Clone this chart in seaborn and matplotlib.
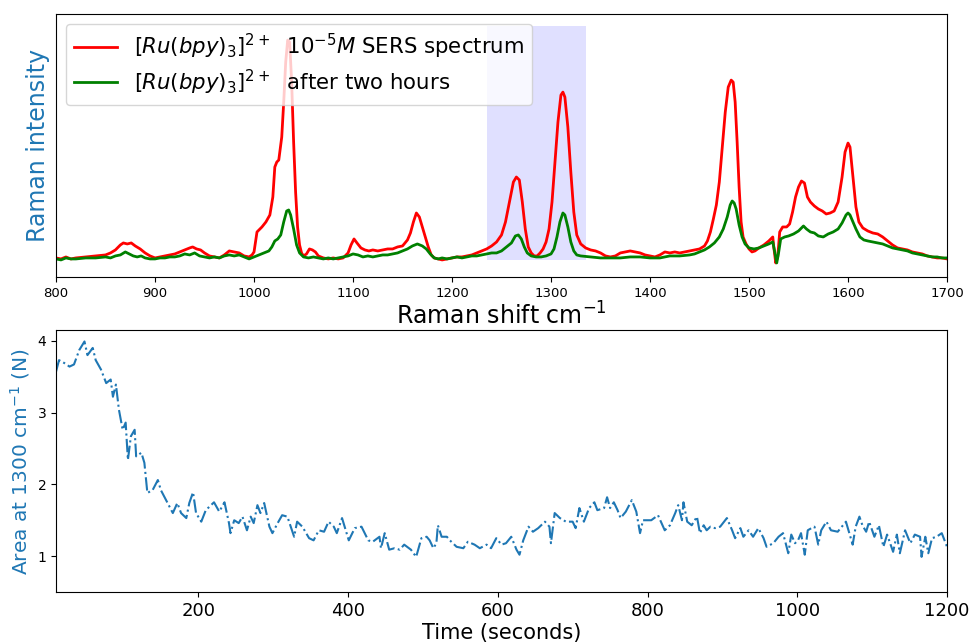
import numpy as np
import pandas as pd
import matplotlib
matplotlib.use("Agg")
import matplotlib.pyplot as plt
import seaborn as sns

# ---------------- data: top panel (Raman spectra) ----------------
red_shift = [800, 805, 810, 815, 820, 830, 840, 850, 855, 860, 865, 868, 872, 876, 880, 885, 890, 895,
             900, 905, 910, 915, 920, 925, 930, 935, 938, 942, 946, 950, 955, 960, 965, 970, 975, 980,
             985, 990, 995, 998, 1000, 1003, 1008, 1012, 1016, 1019, 1021, 1023, 1025, 1028, 1030, 1032,
             1034, 1036, 1038, 1040, 1042, 1044, 1046, 1048, 1050, 1053, 1056, 1059, 1062, 1065, 1070,
             1075, 1080, 1085, 1090, 1095, 1098, 1101, 1104, 1108, 1112, 1116, 1120, 1125, 1130, 1135,
             1140, 1145, 1150, 1155, 1158, 1161, 1164, 1167, 1170, 1173, 1176, 1179, 1182, 1186, 1190,
             1195, 1200, 1205, 1210, 1215, 1220, 1225, 1230, 1235, 1240, 1245, 1250, 1254, 1258, 1262,
             1265, 1268, 1271, 1274, 1277, 1280, 1283, 1286, 1289, 1292, 1295, 1298, 1301, 1304, 1307,
             1310, 1312, 1314, 1317, 1320, 1323, 1326, 1330, 1335, 1340, 1345, 1350, 1355, 1360, 1365,
             1370, 1375, 1380, 1385, 1390, 1395, 1400, 1405, 1410, 1415, 1420, 1425, 1430, 1435, 1440,
             1445, 1450, 1455, 1458, 1461, 1464, 1467, 1470, 1473, 1476, 1479, 1482, 1484, 1486, 1488,
             1490, 1492, 1494, 1497, 1500, 1503, 1506, 1510, 1515, 1520, 1524, 1525, 1527, 1529, 1531,
             1534, 1538, 1541, 1544, 1547, 1550, 1553, 1556, 1559, 1562, 1566, 1570, 1574, 1578, 1582,
             1586, 1590, 1594, 1597, 1600, 1602, 1605, 1608, 1611, 1615, 1620, 1625, 1630, 1635, 1640,
             1645, 1650, 1655, 1660, 1665, 1670, 1675, 1680, 1685, 1690, 1695, 1700]
red_intensity = [19, 18, 20, 18, 19, 20, 21, 22, 24, 27, 32, 34, 33, 34, 31, 28, 24, 21,
                 19, 20, 21, 22, 23, 25, 27, 29, 30, 28, 27, 24, 21, 20, 19, 22, 26, 25,
                 24, 21, 20, 22, 25, 45, 50, 55, 62, 80, 110, 115, 117, 140, 175, 215,
                 237, 235, 195, 135, 85, 50, 32, 24, 21, 23, 28, 27, 25, 21, 19,
                 18, 19, 18, 19, 24, 32, 38, 34, 29, 27, 26, 27, 26, 27, 28,
                 28, 30, 31, 37, 44, 55, 64, 60, 50, 40, 30, 22, 19, 18, 17,
                 18, 19, 20, 20, 21, 22, 24, 26, 28, 31, 35, 42, 55, 75, 95,
                 100, 97, 75, 48, 30, 24, 21, 21, 24, 28, 35, 48, 75, 115, 155,
                 182, 185, 180, 150, 105, 65, 42, 33, 29, 27, 26, 24, 21, 20, 21,
                 24, 25, 26, 25, 24, 22, 21, 20, 22, 25, 24, 25, 24, 25, 26,
                 27, 28, 31, 36, 45, 58, 72, 95, 130, 165, 190, 197, 195, 175, 135,
                 90, 55, 40, 33, 28, 25, 26, 29, 32, 36, 40, 30, 14, 20, 45,
                 50, 50, 53, 65, 80, 90, 96, 94, 80, 75, 71, 68, 66, 63, 64,
                 66, 75, 100, 125, 134, 130, 100, 70, 55, 49, 46, 44, 43, 40, 36,
                 32, 29, 28, 27, 25, 24, 23, 21, 20, 19, 19, 18]

green_shift = [800, 805, 810, 815, 820, 830, 840, 850, 855, 860, 865, 870, 874, 878, 882, 886, 890, 895,
               900, 905, 910, 915, 920, 925, 930, 935, 940, 945, 950, 955, 960, 965, 970, 975, 980, 985,
               990, 995, 1000, 1005, 1010, 1015, 1018, 1021, 1024, 1027, 1030, 1033, 1035, 1037, 1040,
               1043, 1046, 1050, 1055, 1060, 1065, 1070, 1075, 1080, 1085, 1090, 1095, 1100, 1105, 1110,
               1115, 1120, 1125, 1130, 1135, 1140, 1145, 1150, 1155, 1160, 1165, 1170, 1174, 1178, 1182,
               1186, 1190, 1195, 1200, 1205, 1210, 1215, 1220, 1225, 1230, 1235, 1240, 1245, 1250, 1255,
               1260, 1264, 1267, 1270, 1273, 1276, 1280, 1285, 1290, 1295, 1300, 1303, 1306, 1309, 1312,
               1314, 1317, 1320, 1323, 1326, 1330, 1340, 1350, 1360, 1370, 1380, 1390, 1400, 1410, 1420,
               1430, 1440, 1445, 1450, 1455, 1460, 1465, 1470, 1474, 1478, 1481, 1483, 1485, 1487, 1490,
               1493, 1496, 1500, 1505, 1510, 1515, 1520, 1524, 1526, 1528, 1530, 1532, 1536, 1540, 1545,
               1550, 1555, 1558, 1562, 1566, 1570, 1575, 1580, 1585, 1590, 1594, 1598, 1600, 1602, 1605,
               1608, 1612, 1616, 1620, 1625, 1630, 1635, 1640, 1645, 1650, 1655, 1660, 1665, 1670, 1675,
               1680, 1685, 1690, 1695, 1700]
green_intensity = [18, 17, 19, 18, 18, 19, 19, 20, 19, 21, 22, 25, 23, 21, 20, 21, 19, 18,
                   18, 19, 19, 20, 20, 21, 23, 22, 24, 21, 20, 19, 20, 19, 21, 22, 21, 22,
                   20, 18, 20, 22, 24, 26, 30, 36, 38, 42, 55, 66, 67, 62, 48,
                   32, 24, 20, 19, 20, 19, 18, 19, 18, 19, 20, 21, 23, 22, 20,
                   21, 20, 21, 22, 22, 23, 24, 26, 28, 31, 33, 31, 28, 23, 19,
                   18, 19, 18, 19, 20, 19, 20, 21, 21, 22, 23, 24, 24, 26, 30,
                   34, 41, 42, 38, 30, 24, 21, 20, 20, 21, 23, 28, 40, 55, 64,
                   62, 50, 35, 26, 22, 21, 20, 19, 19, 19, 20, 20, 19, 19, 21,
                   21, 22, 23, 25, 27, 30, 34, 40, 48, 60, 72, 76, 74, 68, 52,
                   40, 33, 29, 28, 29, 31, 33, 35, 25, 14, 25, 38, 40, 41, 43,
                   46, 51, 48, 45, 44, 41, 40, 43, 45, 48, 54, 62, 64, 62, 55,
                   48, 40, 37, 36, 35, 34, 33, 31, 29, 28, 27, 26, 24, 23, 22,
                   21, 20, 20, 19, 19]

span_shift = [1235, 1335]
span_intensity = [17, 251]

label_red = r"$[Ru(bpy)_3]^{2+}$  $10^{-5}M$ SERS spectrum"
label_green = r"$[Ru(bpy)_3]^{2+}$  after two hours"
spectrum_ticks = [800, 900, 1000, 1100, 1200, 1300, 1400, 1500, 1600, 1700]

# ---------------- data: bottom panel (area vs time) ----------------
time_s = [10, 14, 21, 28, 34, 41, 48, 52, 59, 63, 70, 77, 83, 86, 90, 94, 99, 103, 106, 110,
          115, 117, 124, 128, 132, 139, 146, 150, 157, 166, 172, 177, 184, 188, 193, 197, 204, 210,
          217, 221, 228, 235, 241, 243, 248, 254, 259, 265, 270, 274, 279, 283, 288, 295, 299, 306,
          312, 319, 328, 332, 339, 348, 354, 361, 368, 374, 381, 385, 392, 397, 401, 409, 418, 427,
          433, 442, 444, 449, 455, 462, 469, 475, 484, 491, 498, 505, 509, 514, 518, 520, 525, 532,
          536, 545, 554, 560, 569, 576, 585, 591, 598, 605, 611, 618, 625, 629, 634, 641, 647, 654,
          663, 669, 671, 676, 683, 691, 700, 704, 709, 715, 722, 729, 733, 742, 746, 750, 755, 760,
          764, 771, 779, 785, 790, 794, 801, 805, 814, 823, 830, 837, 841, 846, 848, 853, 859, 866,
          870, 875, 879, 884, 890, 897, 906, 913, 917, 924, 928, 935, 941, 948, 955, 959, 968, 975,
          981, 988, 992, 997, 1001, 1005, 1010, 1014, 1019, 1023, 1028, 1032, 1039, 1045, 1054, 1065,
          1074, 1078, 1083, 1087, 1092, 1096, 1103, 1109, 1115, 1120, 1128, 1133, 1137, 1144, 1151,
          1157, 1164, 1166, 1171, 1175, 1180, 1186, 1193, 1200]
area_1300 = [3.57, 3.73, 3.69, 3.64, 3.67, 3.87, 3.99, 3.80, 3.90, 3.73, 3.60, 3.41, 3.46, 3.22,
             3.39, 3.04, 2.76, 2.86, 2.34, 2.67, 2.76, 2.39, 2.44, 2.30, 1.88, 1.92, 2.06, 1.92, 1.78,
             1.60, 1.74, 1.60, 1.53, 1.74, 1.89, 1.60, 1.48, 1.64, 1.71, 1.75, 1.62, 1.75, 1.46, 1.32,
             1.50, 1.46, 1.55, 1.36, 1.55, 1.46, 1.71, 1.60, 1.74, 1.41, 1.32, 1.46, 1.57, 1.55, 1.27,
             1.48, 1.41, 1.25, 1.22, 1.36, 1.34, 1.48, 1.41, 1.32, 1.53, 1.36, 1.22, 1.39, 1.41, 1.22,
             1.20, 1.27, 1.11, 1.32, 1.09, 1.11, 1.09, 1.16, 1.09, 0.99, 1.25, 1.27, 1.22, 1.11, 1.18,
             1.43, 1.27, 1.27, 1.22, 1.13, 1.11, 1.20, 1.16, 1.11, 1.16, 1.11, 1.25, 1.16, 1.18, 1.27,
             1.09, 1.02, 1.22, 1.41, 1.34, 1.39, 1.48, 1.41, 1.18, 1.60, 1.53, 1.48, 1.48, 1.39, 1.67,
             1.48, 1.67, 1.75, 1.64, 1.67, 1.82, 1.67, 1.75, 1.64, 1.53, 1.62, 1.78, 1.62, 1.32, 1.50,
             1.50, 1.50, 1.57, 1.36, 1.43, 1.60, 1.71, 1.50, 1.75, 1.48, 1.43, 1.55, 1.32, 1.43, 1.36,
             1.41, 1.39, 1.41, 1.53, 1.36, 1.25, 1.39, 1.27, 1.36, 1.27, 1.39, 1.25, 1.13, 1.18, 1.27,
             1.32, 1.04, 1.30, 1.18, 1.22, 1.32, 1.02, 1.36, 1.39, 1.41, 1.16, 1.36, 1.48, 1.36, 1.34,
             1.48, 1.16, 1.41, 1.55, 1.43, 1.34, 1.48, 1.27, 1.43, 1.13, 1.30, 1.06, 1.30, 1.04, 1.36,
             1.18, 1.30, 1.27, 0.99, 1.27, 1.04, 1.25, 1.27, 1.32, 1.13]

spec_red = pd.DataFrame({"shift": red_shift, "intensity": red_intensity})
spec_green = pd.DataFrame({"shift": green_shift, "intensity": green_intensity})
kinetics = pd.DataFrame({"time": time_s, "area": area_1300})

# ---------------- figure ----------------
fig = plt.figure(figsize=(9.71, 6.44), dpi=100)
ax1 = fig.add_axes([0.0577, 0.570, 0.9176, 0.408])
ax2 = fig.add_axes([0.0577, 0.0807, 0.9176, 0.4069])

ax1.fill_between(span_shift, span_intensity[0], span_intensity[1],
                 color="blue", alpha=0.12, linewidth=0)
sns.lineplot(data=spec_red, x="shift", y="intensity", ax=ax1, color="red",
             linewidth=2.0, label=label_red, estimator=None)
sns.lineplot(data=spec_green, x="shift", y="intensity", ax=ax1, color="green",
             linewidth=2.0, label=label_green, estimator=None)
ax1.set_xlim(800, 1700)
ax1.set_ylim(0, 263)
ax1.set_yticks([])
ax1.set_xticks(spectrum_ticks)
ax1.tick_params(axis="x", labelsize=9.5)
ax1.set_xlabel(r"Raman shift cm$^{-1}$", fontsize=17, labelpad=2)
ax1.set_ylabel("Raman intensity", fontsize=17, color="C0")
ax1.legend(loc="upper left", fontsize=15.3, labelspacing=0.28,
           borderaxespad=0.45)

sns.lineplot(data=kinetics, x="time", y="area", ax=ax2, color="C0",
             linestyle="-.", linewidth=1.5, estimator=None)
ax2.set_xlim(10, 1200)
ax2.set_ylim(0.5, 4.15)
ax2.set_yticks([1, 2, 3, 4])
ax2.tick_params(axis="x", labelsize=13)
ax2.tick_params(axis="y", labelsize=10)
ax2.set_xlabel("Time (seconds)", fontsize=15, labelpad=2)
ax2.set_ylabel(r"Area at 1300 cm$^{-1}$ (N)", fontsize=14.5, color="C0")

fig.savefig("out.png", dpi=100)
